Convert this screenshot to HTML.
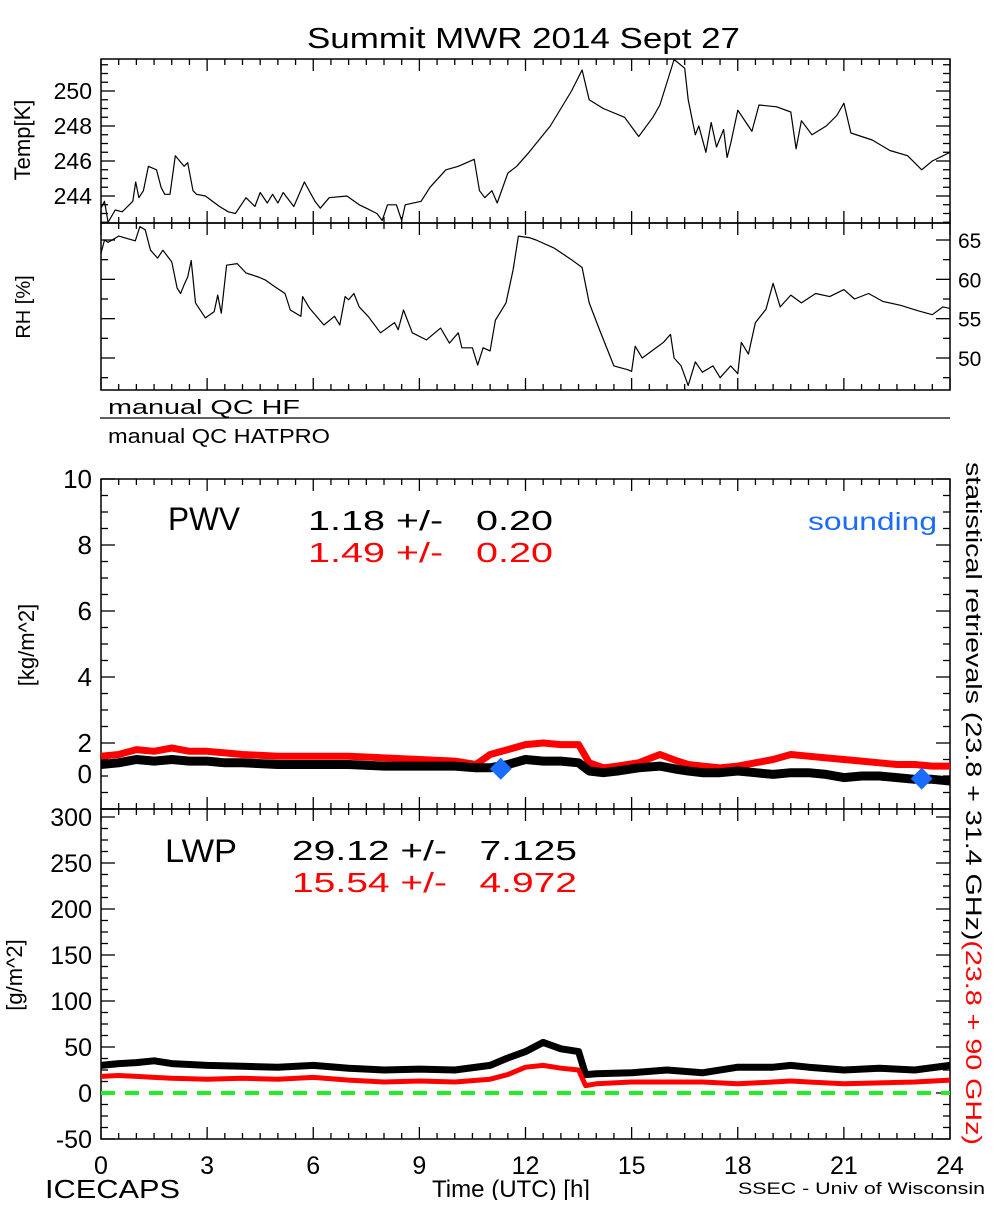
<!DOCTYPE html>
<html><head><meta charset="utf-8"><style>
body{margin:0;background:#fff}
svg text{font-family:"Liberation Sans",sans-serif;fill:#000}
</style></head><body>
<svg id="c" width="1000" height="1200" xmlns="http://www.w3.org/2000/svg">
<text x="307" y="48" font-size="29" textLength="433" lengthAdjust="spacingAndGlyphs">Summit MWR 2014 Sept 27</text>
<text transform="translate(30,140) rotate(-90)" font-size="22" text-anchor="middle">Temp[K]</text>
<text transform="translate(30,307) rotate(-90)" font-size="20" text-anchor="middle">RH [%]</text>
<text x="108" y="414" font-size="20" textLength="192" lengthAdjust="spacingAndGlyphs">manual QC HF</text>
<line x1="100" y1="418" x2="950" y2="418" stroke="#000" stroke-width="1.2"/>
<text x="108" y="443" font-size="20" textLength="222" lengthAdjust="spacingAndGlyphs">manual QC HATPRO</text>
<text transform="translate(34,645) rotate(-90)" font-size="22" text-anchor="middle">[kg/m^2]</text>
<text x="168" y="530" font-size="32" textLength="72" lengthAdjust="spacingAndGlyphs">PWV</text>
<text x="308" y="530" font-size="28" xml:space="preserve" textLength="245" lengthAdjust="spacingAndGlyphs">1.18 +/-   0.20</text>
<text x="308" y="562" font-size="28" style="fill:#ff0000" xml:space="preserve" textLength="245" lengthAdjust="spacingAndGlyphs">1.49 +/-   0.20</text>
<text x="808" y="530" font-size="25" style="fill:#1a6cff" textLength="129" lengthAdjust="spacingAndGlyphs">sounding</text>
<text x="165" y="862" font-size="32" textLength="72" lengthAdjust="spacingAndGlyphs">LWP</text>
<text x="292" y="860" font-size="28" xml:space="preserve" textLength="285" lengthAdjust="spacingAndGlyphs">29.12 +/-   7.125</text>
<text x="292" y="892" font-size="28" style="fill:#ff0000" xml:space="preserve" textLength="285" lengthAdjust="spacingAndGlyphs">15.54 +/-   4.972</text>
<text transform="translate(22,975) rotate(-90)" font-size="22" text-anchor="middle">[g/m^2]</text>
<text transform="translate(966,462) rotate(90)" font-size="22" textLength="683" lengthAdjust="spacingAndGlyphs">statistical retrievals (23.8 + 31.4 GHz)<tspan style="fill:#ff0000">(23.8 + 90 GHz)</tspan></text>
<text x="45" y="1198" font-size="26" textLength="135" lengthAdjust="spacingAndGlyphs">ICECAPS</text>
<text x="432" y="1197" font-size="24" textLength="158" lengthAdjust="spacingAndGlyphs">Time (UTC) [h]</text>
<text x="738" y="1194" font-size="17" textLength="247" lengthAdjust="spacingAndGlyphs">SSEC - Univ of Wisconsin</text>
<g id="g"></g>
</svg>
<script>
const tempH=[0,0.1,0.2,0.4,0.6,0.9,0.98,1.07,1.2,1.34,1.57,1.7,1.8,1.95,2.1,2.35,2.45,2.6,2.7,2.95,3.35,3.6,3.8,4.1,4.35,4.5,4.7,4.85,5.0,5.15,5.45,5.75,6.05,6.2,6.45,6.95,7.3,7.5,7.8,7.95,8.1,8.35,8.5,8.6,9.05,9.3,9.75,10.1,10.55,10.7,10.85,11.05,11.2,11.5,11.75,12.1,12.7,13.3,13.6,13.8,14.2,14.8,15.2,15.6,15.8,16.2,16.5,16.6,16.8,16.9,17.1,17.25,17.4,17.6,17.7,17.8,18.0,18.3,18.4,18.6,19.1,19.5,19.65,19.8,20.1,20.5,20.8,21.0,21.2,21.8,22.3,22.8,23.2,23.5,24];
const tempK=[243.3,243.7,242.5,243.2,243.1,243.7,244.8,243.9,244.3,245.7,245.5,244.5,244.1,244.1,246.3,245.7,245.9,244.3,244.1,244.0,243.4,243.1,243.0,243.9,243.4,244.2,243.6,244.1,243.6,244.2,243.4,244.8,243.7,243.3,243.9,244.0,243.5,243.3,243.0,242.6,243.5,243.5,242.6,243.5,243.7,244.5,245.5,245.7,246.1,244.3,243.9,244.3,243.6,245.3,245.7,246.5,248.0,250.0,251.2,249.5,249.0,248.5,247.4,248.5,249.2,251.8,251.3,249.5,247.5,248.0,246.5,248.2,246.8,247.8,246.2,247.0,248.9,248.0,247.7,249.2,249.1,248.8,246.7,248.3,247.5,248.0,248.6,249.3,247.6,247.2,246.6,246.3,245.5,246.0,246.5];
const rhH=[0,0.1,0.2,0.5,0.97,1.1,1.25,1.4,1.6,1.75,2.0,2.15,2.25,2.35,2.45,2.55,2.67,2.95,3.2,3.3,3.4,3.55,3.85,4.1,4.45,4.65,4.9,5.2,5.35,5.65,5.7,5.9,6.3,6.6,6.75,6.9,7.0,7.15,7.3,7.55,7.9,8.3,8.4,8.55,8.8,9.2,9.6,9.85,10.1,10.2,10.5,10.65,10.8,11.0,11.15,11.45,11.65,11.8,12.1,12.3,12.8,13.3,13.6,13.8,14.1,14.5,14.9,15.0,15.1,15.3,15.6,15.9,16.1,16.2,16.4,16.6,16.8,17.0,17.3,17.5,17.8,18.0,18.1,18.3,18.5,18.8,19.0,19.2,19.5,19.8,20.2,20.6,21.0,21.3,21.7,22.1,22.6,23.1,23.5,23.8,24];
const rhV=[63.3,65,64.7,65.5,64.9,66.7,66.3,63.7,62.7,63.7,62.2,58.9,58.2,59.3,60.3,62.4,57.0,55.1,55.9,58.0,55.7,61.8,62.0,60.8,60.3,59.9,59.1,58.2,56.1,55.3,57.8,56.3,54.2,55.3,54.2,57.8,57.4,58.2,56.5,55.3,53.2,54.5,53.6,56.1,53.2,52.3,53.8,51.9,53.2,51.3,51.3,49.1,51.3,50.9,54.8,57.0,61.2,65.5,65.3,65,64,62.5,61.5,57,53.5,49,48.5,48.3,51.5,50,51,52,53,50,49,46.5,49.5,48.2,49,47.5,49,48,52,50.5,54.5,56.2,59.5,56.5,58,57,58.2,57.8,58.7,57.5,58.2,57.2,56.7,56,55.5,56.5,56.3];
const pwvH=[0,0.5,1,1.5,2,2.5,3,3.5,4,5,6,7,8,9,10,10.6,11,11.5,12,12.5,13,13.5,13.8,14.2,14.6,15.2,15.8,16.3,16.6,17,17.5,18,18.5,19,19.5,20,20.5,21,21.5,22,22.5,23,23.5,24];
const pwvBlack=[1.35,1.4,1.5,1.45,1.5,1.45,1.45,1.4,1.4,1.35,1.35,1.35,1.3,1.3,1.3,1.25,1.25,1.35,1.5,1.45,1.45,1.4,1.15,1.1,1.15,1.25,1.3,1.2,1.15,1.1,1.1,1.15,1.1,1.05,1.1,1.1,1.05,0.95,1.0,1.0,0.95,0.9,0.9,0.85];
const pwvRed=[1.6,1.65,1.8,1.75,1.85,1.75,1.75,1.7,1.65,1.6,1.6,1.6,1.55,1.5,1.45,1.35,1.65,1.8,1.95,2.0,1.95,1.95,1.4,1.25,1.3,1.4,1.65,1.45,1.35,1.3,1.25,1.3,1.4,1.5,1.65,1.6,1.55,1.5,1.45,1.4,1.35,1.35,1.3,1.3];
const sondeH=[11.3,23.2];
const sondeV=[1.22,0.92];
const lwpH=[0,0.5,1,1.5,2,3,4,5,6,7,8,9,10,11,11.5,12,12.5,13,13.5,13.7,14,15,16,17,18,19,19.5,20,21,22,23,24];
const lwpBlack=[30,32,33,35,32,30,29,28,30,27,25,26,25,30,38,45,55,48,45,20,21,22,25,22,28,28,30,28,25,27,25,30];
const lwpRed=[18,19,18,17,16,15,16,15,17,14,12,13,12,15,20,28,30,27,25,8,10,12,12,12,10,12,13,12,10,11,12,14];
const xTicks=["0","3","6","9","12","15","18","21","24"];
const tempTicks=[244,246,248,250];
const rhTicks=[50,55,60,65];
const pwvTicks=[0,2,4,6,8,10];
const lwpTicks=[-50,0,50,100,150,200,250,300];

const NS="http://www.w3.org/2000/svg";
const g=document.getElementById('g');
const L=101,R=950;
const xs=h=>L+(h/24)*(R-L);
function lin(v0,y0,v1,y1){return v=>y0+(v-v0)*(y1-y0)/(v1-v0);}
const yT=lin(244,196,250,91);
const yRH=lin(50,358,65,240);
const yP=lin(0,809,10,479);
const yL=lin(0,1093,300,817);
function mk(tag,attrs){const e=document.createElementNS(NS,tag);for(const k in attrs)e.setAttribute(k,attrs[k]);g.appendChild(e);return e;}
function line(x1,y1,x2,y2,w){return mk('line',{x1,y1,x2,y2,stroke:'#000','stroke-width':w||1.3});}
function panel(top,bot,name){
  const r=mk('rect',{x:L,y:top,width:R-L,height:bot-top,fill:'none',stroke:'#000','stroke-width':1.5});
  
  
  for(let h=0;h<=24;h+=0.5){
    const len=(h%3===0)?12:6;
    line(xs(h),top,xs(h),top+len);line(xs(h),bot,xs(h),bot-len);
  }
}
function yticks(ys,vals,minorStep,lo,hi){
  for(let v=lo;v<=hi+1e-9;v+=minorStep){
    const y=ys(v);const major=vals.some(t=>Math.abs(t-v)<1e-9);const l=major?14:7;
    line(L,y,L+l,y);line(R,y,R-l,y);
  }
}
function path(hs,vs,ys,color,w,name,dash){
  let d='';hs.forEach((h,i)=>{d+=(i?'L':'M')+xs(h).toFixed(1)+','+ys(vs[i]).toFixed(1);});
  const p=mk('path',{d,fill:'none',stroke:color,'stroke-width':w,'stroke-linejoin':'round'});
  if(dash)p.setAttribute('stroke-dasharray',dash);
  
  
}
function label(x,y,t,anchor,size,name){
  const e=mk('text',{x,y,'font-size':size,'text-anchor':anchor});e.textContent=t;
  
  
}
panel(59,223,'temp-panel');
yticks(yT,tempTicks,0.5,242.5,251.5);
tempTicks.forEach(v=>label(92,yT(v)+8,String(v),'end',23,'temp-tick-'+v));
path(tempH,tempK,yT,'#000',1.2,'temp-line');
panel(223,390,'rh-panel');
yticks(yRH,rhTicks,2.5,47.5,65);
rhTicks.forEach(v=>label(958,yRH(v)+8,String(v),'start',21,'rh-tick-'+v));
path(rhH,rhV,yRH,'#000',1.2,'rh-line');
panel(479,809,'pwv-panel');
yticks(yP,pwvTicks,0.5,0,10);
pwvTicks.forEach(v=>label(92,v===0?yP(v)-26:yP(v)+9,String(v),'end',26,'pwv-tick-'+v));
path(pwvH,pwvRed,yP,'#ff0000',7,'pwv-red-series');
path(pwvH,pwvBlack,yP,'#000',9,'pwv-black-series');
sondeH.forEach((h,i)=>{const x=xs(h),y=yP(sondeV[i]);
  const e=mk('polygon',{points:`${x},${y-11} ${x+11},${y} ${x},${y+11} ${x-11},${y}`,fill:'#1a6cff'});
  
  });
panel(809,1139,'lwp-panel');
yticks(yL,lwpTicks,12.5,-50,300);
lwpTicks.forEach(v=>label(92,yL(v)+9,String(v),'end',25,'lwp-tick-'+v));
path([0,24],[0,0],yL,'#22ee22',4,'zero-line','14,10');
path(lwpH,lwpBlack,yL,'#000',7,'lwp-black-series');
path(lwpH,lwpRed,yL,'#ff0000',5,'lwp-red-series');
xTicks.forEach((t,i)=>label(xs(i*3),1174,t,'middle',25,'x-tick-'+t));
</script>
</body></html>
